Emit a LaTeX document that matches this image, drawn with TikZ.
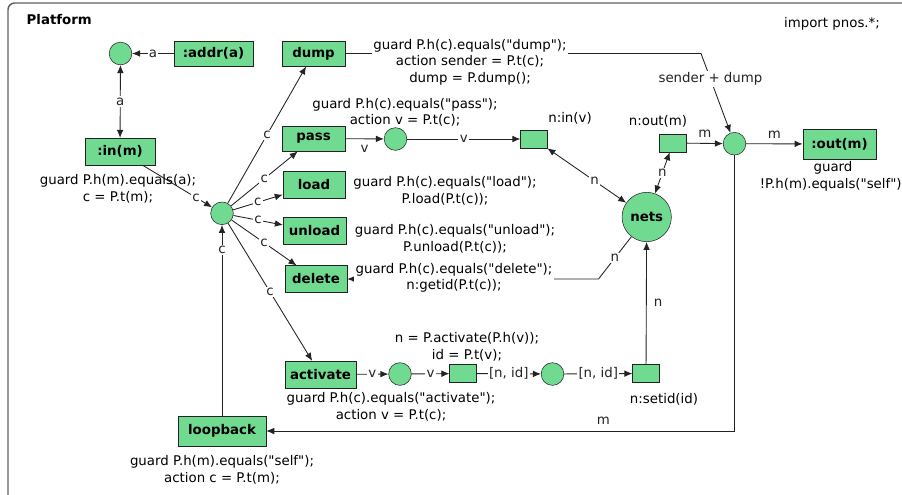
\documentclass[tikz,border=0pt]{standalone}
\usepackage{fontspec}
\setmainfont{DejaVu Sans}[Ligatures=TeXOff]
\usetikzlibrary{arrows.meta, positioning}
\definecolor{netGreen}{RGB}{112,219,144}
\definecolor{netLine}{RGB}{35,35,35}
\definecolor{netFrame}{RGB}{95,95,95}
\tikzset{
  trans/.style={draw=netLine, fill=netGreen, font=\bfseries,
                minimum height=19pt, inner sep=2pt},
  place/.style={draw=netLine, fill=netGreen, circle,
                minimum size=17pt, inner sep=0pt},
  tok/.style={draw=netLine, fill=netGreen, minimum width=20pt,
              minimum height=13.5pt, inner sep=0pt},
  arc/.style={netLine, line width=0.65pt, -{Latex[length=6pt, width=5pt]}},
  biarc/.style={netLine, line width=0.65pt,
                {Latex[length=6pt, width=5pt]}-{Latex[length=6pt, width=5pt]}},
  lbl/.style={fill=white, inner sep=1pt},
  code/.style={align=center, font=\fontsize{10}{12.4}\selectfont},
}

\begin{document}
\begin{tikzpicture}[x=0.75pt, y=-0.75pt]
  \useasboundingbox (0,0) rectangle (902,494);
  % frame
  \draw[netFrame, line width=1.1pt, rounded corners=5pt] (8,3) rectangle (930,520);
  \node[anchor=west, font=\bfseries] (title) at (22,20) {Platform};
  \node (import) at (832,24) {import pnos.*;};

  % places and transitions
  \node[place] (pa) at (120.5,53.5) {};
  \node[trans, minimum width=59pt] (addr) at (213.5,53.5) {:addr(a)};
  \node[trans, minimum width=52.5pt, minimum height=20pt] (in) at (120,151.5) {:in(m)};
  \node[place] (hub) at (222,213.3) {};
  \node[trans, minimum width=47pt] (dump) at (313.5,53.5) {dump};
  \node[trans, minimum width=47pt] (pass) at (313.5,138.5) {pass};
  \node[trans, minimum width=46.5pt, minimum height=20pt] (load) at (314,185) {load};
  \node[trans, minimum width=47pt, minimum height=20pt] (unload) at (314.5,231) {unload};
  \node[trans, minimum width=46.5pt, minimum height=20pt] (delete) at (316,279) {delete};
  \node[trans, minimum width=53pt, minimum height=20pt] (activate) at (320.5,374.5) {activate};
  \node[trans, minimum width=66pt, minimum height=22.5pt] (loopback) at (222,431) {loopback};
  \node[place] (pp) at (395.5,139) {};
  \node[tok] (nin) at (534,139) {};
  \node[tok] (nout) at (673,143) {};
  \node[place] (merge) at (734.5,143.7) {};
  \node[trans, minimum width=55pt, minimum height=22.5pt] (out) at (839.5,144) {:out(m)};
  \node[place, minimum size=37pt, font=\bfseries] (nets) at (646.7,217) {nets};
  \node[place] (ac1) at (400,374) {};
  \node[tok] (acbox) at (463,373.5) {};
  \node[place] (ac2) at (552.5,374) {};
  \node[tok] (setid) at (646,373.5) {};
  \coordinate (dumpturn) at (701,53.5);
  \coordinate (delturn) at (598.5,279);

  % arcs
  \draw[arc] (addr) -- node[lbl] {a} (pa);
  \draw[biarc] (in) -- node[lbl] {a} (pa);
  \draw[arc] (in) -- node[lbl, pos=0.77] {c} (hub);
  \draw[arc] (hub) -- node[lbl] {c} (dump);
  \draw[arc] (hub) -- node[lbl] {c} (pass);
  \draw[arc] (hub) -- node[lbl] {c} (load);
  \draw[arc] (hub) -- node[lbl] {c} (unload);
  \draw[arc] (hub) -- node[lbl] {c} (delete);
  \draw[arc] (hub) -- node[lbl] {c} (activate);
  \draw[arc] (loopback) -- node[lbl, pos=0.87] {c} (hub);
  \draw[arc] (pass) -- node[below=1pt] {v} (pp);
  \draw[arc] (pp) -- node[lbl] {v} (nin);
  \draw[biarc] (nin) -- node[lbl, pos=0.6] {n} (nets);
  \draw[biarc] (nout) -- node[lbl] {n} (nets);
  \draw[arc] (nout) -- node[above=1pt] {m} (merge);
  \draw[arc] (merge) -- node[above=0pt] {m} (out);
  \draw[arc] (dump) -- (dumpturn) -- node[lbl, pos=0.32] {sender + dump} (merge);
  \draw[arc] (nets) -- node[lbl] {n} (delturn) -- (delete);
  \draw[arc] (setid) -- node[right=2pt] {n} (nets);
  \draw[arc] (merge) |- node[pos=0.64, above=1pt] {m} (loopback);
  \draw[arc] (activate) -- node[lbl] {v} (ac1);
  \draw[arc] (ac1) -- node[lbl] {v} (acbox);
  \draw[arc] (acbox) -- node[lbl] {[n, id]} (ac2);
  \draw[arc] (ac2) -- node[lbl] {[n, id]} (setid);

  % inscriptions
  \node[code] (intxt) at (118,189) {guard P.h(m).equals(a);\\ c = P.t(m);};
  \node[code, fill=white, inner sep=1pt] (dumptxt) at (470,62)
    {guard P.h(c).equals("dump");\\ action sender = P.t(c);\\ dump = P.dump();};
  \node[code] (passtxt) at (405,112.5) {guard P.h(c).equals("pass");\\ action v = P.t(c);};
  \node (nintxt) at (570,118) {n:in(v)};
  \node (nouttxt) at (658,121.5) {n:out(m)};
  \node[code] (outtxt) at (833,176.5) {guard\\ !P.h(m).equals("self");};
  \node[code] (loadtxt) at (445,191) {guard P.h(c).equals("load");\\ P.load(P.t(c));};
  \node[code] (unloadtxt) at (455,239) {guard P.h(c).equals("unload");\\ P.unload(P.t(c));};
  \node[code, fill=white, inner sep=1pt] (deletetxt) at (454,278)
    {guard P.h(c).equals("delete");\\ n:getid(P.t(c));};
  \node[code] (acttxt) at (467,347) {n = P.activate(P.h(v));\\ id = P.t(v);};
  \node[code] (actguard) at (391,407) {guard P.h(c).equals("activate");\\ action v = P.t(c);};
  \node (setidtxt) at (664,399) {n:setid(id)};
  \node[code] (looptxt) at (222,470) {guard P.h(m).equals("self");\\ action c = P.t(m);};
\end{tikzpicture}
\end{document}
